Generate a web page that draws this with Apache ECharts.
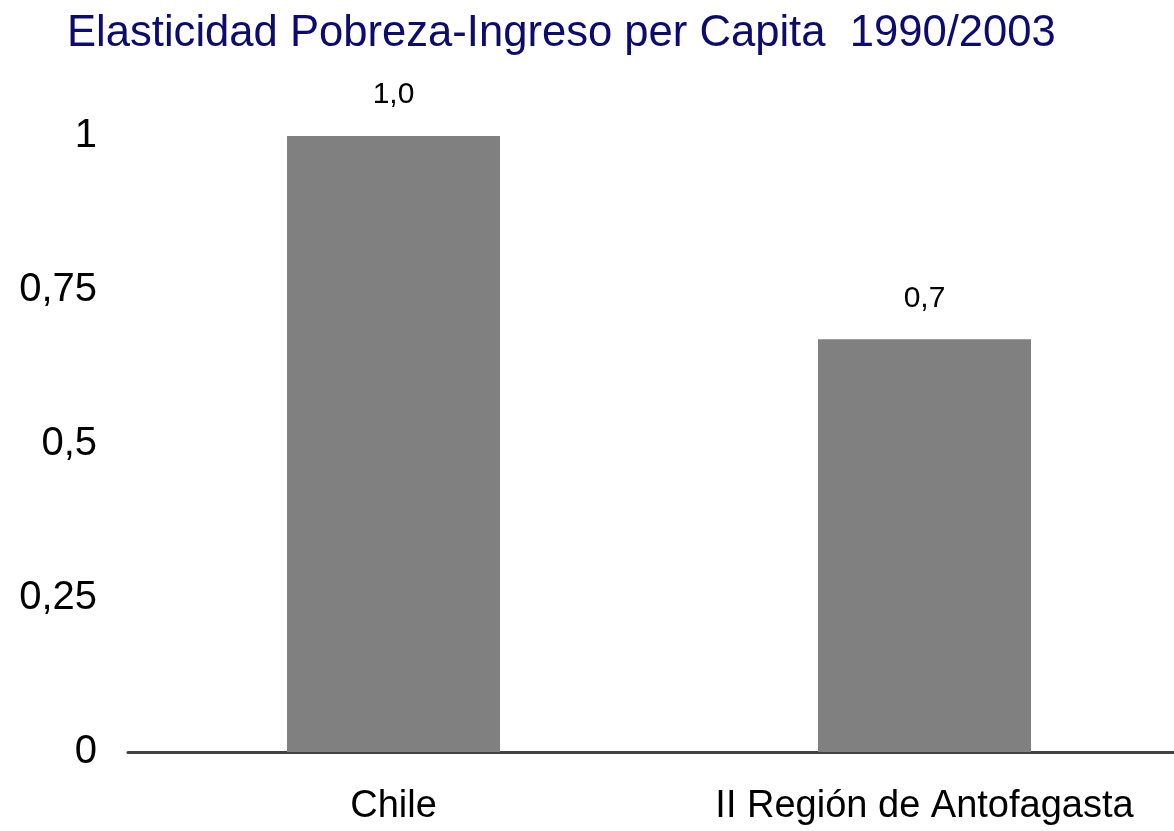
<!DOCTYPE html>
<html>
<head>
<meta charset="utf-8">
<script src="https://cdn.jsdelivr.net/npm/echarts@6/dist/echarts.min.js"></script>
<style>
  html, body { margin: 0; padding: 0; background: #fff; }
  #chart { width: 1174px; height: 831px; }
</style>
</head>
<body>
<div id="chart"></div>
<script>
const categories = ["Chile", "II Región de Antofagasta"];
const elasticity = [1.0, 0.67];
const yTicks = [0, 0.25, 0.5, 0.75, 1];

const chart = echarts.init(document.getElementById("chart"));

const comma = (v) => String(v).replace(".", ",");

chart.setOption({
  animation: false,
  title: {
    text: "Elasticidad Pobreza-Ingreso per Capita  1990/2003",
    left: 62,
    top: 7,
    textStyle: {
      fontFamily: "Liberation Sans",
      fontSize: 43.6,
      fontWeight: "normal",
      color: "#0c0c70",
    },
  },
  grid: {
    left: 128,
    width: 1062,
    top: 136,
    bottom: 79,
    outerBoundsMode: "none",
  },
  xAxis: {
    type: "category",
    data: categories,
    axisLine: { lineStyle: { color: "#404040", width: 3 } },
    axisTick: { show: false },
    axisLabel: {
      interval: 0,
      margin: 36,
      fontFamily: "Liberation Sans",
      fontSize: 38,
      color: "#000",
    },
  },
  yAxis: {
    type: "value",
    min: yTicks[0],
    max: yTicks[yTicks.length - 1],
    interval: 0.25,
    splitLine: { show: false },
    axisLine: { show: false },
    axisTick: { show: false },
    axisLabel: {
      margin: 31,
      fontFamily: "Liberation Sans",
      fontSize: 40,
      color: "#000",
      formatter: (v) => comma(v),
    },
  },
  series: [
    {
      type: "bar",
      data: elasticity,
      barWidth: 213,
      itemStyle: { color: "#808080" },
      label: {
        show: true,
        position: "top",
        distance: 26,
        fontFamily: "Liberation Sans",
        fontSize: 30,
        color: "#000",
        formatter: (p) => p.value.toFixed(1).replace(".", ","),
      },
    },
  ],
});
</script>
</body>
</html>
